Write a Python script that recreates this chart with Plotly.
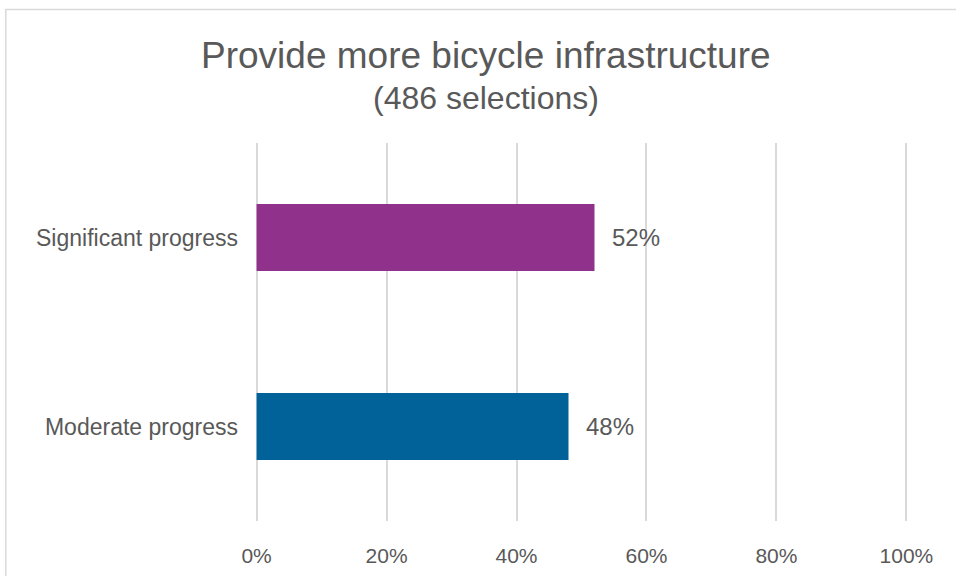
import plotly.graph_objects as go

# Data
categories = ["Moderate progress", "Significant progress"]
shares = [0.48, 0.52]
bar_colors = ["#006298", "#90318B"]
tick_vals = [0, 0.2, 0.4, 0.6, 0.8, 1.0]
tick_text = ["0%", "20%", "40%", "60%", "80%", "100%"]

title_text = "Provide more bicycle infrastructure"
subtitle_text = "(486 selections)"

font_family = "Arial, Liberation Sans, sans-serif"
text_color = "#595959"
grid_color = "#D9D9D9"

W, H = 956, 576
# where 0% and 100% sit in the reference, plus the plot top/bottom
X0_PX, X100_PX, PT, PB = 257, 906, 143, 521
# small padding so plotly keeps the 0% and 100% grid lines
PAD = 0.004
x_range = [-PAD, 1 + PAD]
unit = (X100_PX - X0_PX)  # px per 100%
PL = X0_PX - PAD * unit
PR = X100_PX + PAD * unit


def px_to_paper_x(px):
	return (px - PL) / (PR - PL)


def px_to_paper_y(py):
	return (PB - py) / (PB - PT)


fig = go.Figure()

fig.add_trace(go.Bar(
	y = categories,
	x = shares,
	orientation = "h",
	marker = dict(color = bar_colors, line = dict(width = 0)),
	hoverinfo = "skip",
	showlegend = False
))

# data labels to the right of each bar
for cat, val in zip(categories, shares):
	fig.add_annotation(
		x = val, y = cat, xref = "x", yref = "y",
		text = f"{val:.0%}", showarrow = False,
		xanchor = "left", yanchor = "middle", xshift = 15,
		font = dict(family = font_family, size = 24, color = text_color)
	)

# title and subtitle
fig.add_annotation(
	x = px_to_paper_x(486), y = px_to_paper_y(55), xref = "paper", yref = "paper",
	text = title_text, showarrow = False,
	xanchor = "center", yanchor = "middle",
	font = dict(family = font_family, size = 37, color = text_color)
)
fig.add_annotation(
	x = px_to_paper_x(486), y = px_to_paper_y(98), xref = "paper", yref = "paper",
	text = subtitle_text, showarrow = False,
	xanchor = "center", yanchor = "middle",
	font = dict(family = font_family, size = 32, color = text_color)
)

# chart border (light grey frame)
fig.add_shape(
	type = "rect", xref = "paper", yref = "paper",
	x0 = px_to_paper_x(6.5), x1 = px_to_paper_x(990),
	y0 = px_to_paper_y(620), y1 = px_to_paper_y(9.5),
	line = dict(color = grid_color, width = 1.5),
	fillcolor = "rgba(0,0,0,0)", layer = "below"
)

fig.update_layout(
	width = W, height = H,
	paper_bgcolor = "white", plot_bgcolor = "white",
	margin = dict(l = PL, r = W - PR, t = PT, b = H - PB, autoexpand = False),
	bargap = 0.645,
	font = dict(family = font_family, color = text_color),
	xaxis = dict(
		range = x_range, tickvals = tick_vals, ticktext = tick_text,
		showgrid = True, gridcolor = grid_color, gridwidth = 1.5,
		zeroline = False, showline = False, fixedrange = True,
		tickfont = dict(size = 21, color = text_color),
		ticks = "", ticklabelstandoff = 20
	),
	yaxis = dict(
		showgrid = False, zeroline = False, showline = False, fixedrange = True,
		tickfont = dict(size = 23, color = text_color),
		ticks = "", ticklabelstandoff = 15
	)
)

fig.write_html("out.html", config = {"displayModeBar": False},
               post_script = "document.body.style.margin = '0px';")
